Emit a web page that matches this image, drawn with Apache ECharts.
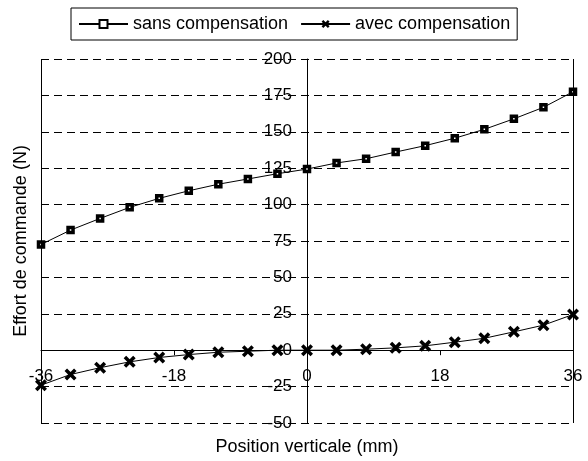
<!DOCTYPE html>
<html>
<head>
<meta charset="utf-8">
<script src="https://cdn.jsdelivr.net/npm/echarts@6/dist/echarts.min.js"></script>
<style>html,body{margin:0;padding:0;background:#fff}#c{width:588px;height:461px}</style>
</head>
<body>
<div id="c"></div>
<script>
var positions = [-36,-32,-28,-24,-20,-16,-12,-8,-4,0,4,8,12,16,20,24,28,32,36];
var sansCompensation = [72.6,82.5,90.5,98.1,104.3,109.5,114,117.6,121.2,124.4,128.6,131.5,136.1,140.5,145.6,151.7,158.9,166.8,177.5];
var avecCompensation = [-24,-16.7,-12,-8,-5,-3,-1.4,-0.7,0,0,0,0.7,1.6,3,5.5,8.2,12.6,17.2,24.5];
var seriesNames = ['sans compensation','avec compensation'];
var xAxisName = 'Position verticale (mm)';
var yAxisName = 'Effort de commande (N)';
var xMin = -36, xMax = 36, xStep = 18;
var yMin = -50, yMax = 200, yStep = 25;

var FONT = 'Liberation Sans, Arial, sans-serif';
function pairs(vals){ return positions.map(function(x,i){ return [x, vals[i]]; }); }
var xPath = 'path://M0,2.5 L2.5,0 L6,3.5 L9.5,0 L12,2.5 L8.5,6 L12,9.5 L9.5,12 L6,8.5 L2.5,12 L0,9.5 L3.5,6 Z';

var GL = 41, GR = 15, GT = 59, GB = 38, W = 588, H = 461;
var plotW = W - GL - GR, plotH = H - GT - GB;
// place axes at the value-0 crossing
var yAxisOffset = -plotW * (0 - xMin) / (xMax - xMin);
var xAxisOffset = -plotH * (0 - yMin) / (yMax - yMin);

var chart = echarts.init(document.getElementById('c'), null, {renderer:'canvas'});
chart.setOption({
  animation: false,
  backgroundColor: '#fff',
  textStyle: {fontFamily: FONT, color: '#000'},
  legend: {
    left: 71, top: 8,
    itemWidth: 49, itemHeight: 10, itemGap: 12,
    padding: [7, 7],
    borderColor: '#000', borderWidth: 1,
    textStyle: {fontSize: 18, fontFamily: FONT, color: '#000'},
    data: seriesNames
  },
  grid: {left: GL, right: GR, top: GT, bottom: GB, containLabel: false, outerBoundsMode: 'none'},
  xAxis: {
    type: 'value', min: xMin, max: xMax, interval: xStep,
    position: 'bottom', offset: xAxisOffset,
    axisLine: {onZero: false, lineStyle: {color: '#000', width: 1}},
    axisTick: {show: true, length: 5, lineStyle: {color: '#000'}},
    axisLabel: {fontSize: 17, color: '#000', fontFamily: FONT, margin: 18},
    splitLine: {show: false},
    name: xAxisName, nameLocation: 'middle', nameGap: 88,
    nameTextStyle: {fontSize: 18, color: '#000', fontFamily: FONT}
  },
  yAxis: {
    type: 'value', min: yMin, max: yMax, interval: yStep,
    position: 'left', offset: yAxisOffset,
    axisLine: {onZero: false, lineStyle: {color: '#000', width: 1}},
    axisTick: {show: true, length: 5, lineStyle: {color: '#000'}},
    axisLabel: {fontSize: 17, color: '#000', fontFamily: FONT, margin: 15},
    splitLine: {show: true, lineStyle: {color: '#000', width: 1, type: [8, 5]}},
    name: yAxisName, nameLocation: 'middle', nameGap: 277,
    nameTextStyle: {fontSize: 18, color: '#000', fontFamily: FONT}
  },
  series: [{
    name: seriesNames[0], type: 'line',
    data: pairs(sansCompensation),
    symbol: 'rect', symbolSize: 5,
    lineStyle: {color: '#000', width: 1},
    itemStyle: {color: '#fff', borderColor: '#000', borderWidth: 3.5},
    markLine: {
      silent: true, symbol: ['none','none'], label: {show: false},
      lineStyle: {color: '#000', type: 'solid', width: 1},
      data: [{xAxis: xMin}, {xAxis: xMax}]
    }
  },{
    name: seriesNames[1], type: 'line',
    data: pairs(avecCompensation),
    symbol: xPath, symbolSize: 12,
    lineStyle: {color: '#000', width: 1},
    itemStyle: {color: '#000', borderWidth: 0}
  }]
});
</script>
</body>
</html>
